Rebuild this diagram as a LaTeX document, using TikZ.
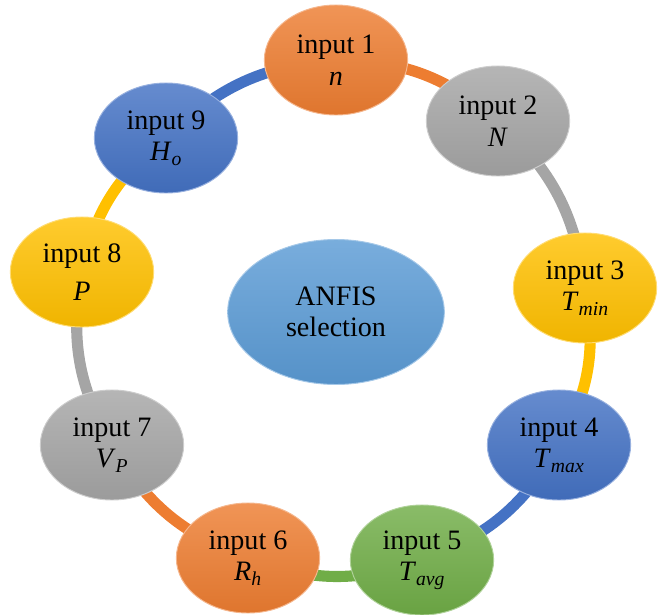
\documentclass[tikz,border=0pt]{standalone}
\usepackage{fontspec}
\setmainfont{Liberation Serif}
\usetikzlibrary{shapes.geometric,backgrounds}
\definecolor{orangeA}{RGB}{237,125,49}
\definecolor{grayA}{RGB}{165,165,165}
\definecolor{yellowA}{RGB}{255,192,0}
\definecolor{blueA}{RGB}{68,114,196}
\definecolor{greenA}{RGB}{112,173,71}
\definecolor{skyA}{RGB}{91,155,213}
% italic symbol with an italic index
\newcommand{\symb}[2]{\textit{#1}\textsubscript{\textit{#2}}}
\tikzset{
  bubble/.style = {ellipse, shading=axis, top color=#1!82!white, bottom color=#1!94!black,
                   draw=#1!55!white, line width=0.8pt, minimum width=4.3cm,
                   minimum height=3.3cm, inner sep=0pt, align=center,
                   font=\fontsize{24}{27}\selectfont},
  link/.style   = {line width=9.5pt, #1},
}

\begin{document}
\begin{tikzpicture}[x=0.03cm,y=-0.03cm]
  \useasboundingbox (0,0) rectangle (658,615);
  % centre
  \node[bubble=skyA, minimum width=6.5cm, minimum height=4.35cm] (anfis) at (336,312)
      {ANFIS\\selection};
  % the nine inputs
  \node[bubble=orangeA] (in1) at (336,60)  {input 1\\ \textit{n}};
  \node[bubble=grayA]   (in2) at (498,121) {input 2\\ \textit{N}};
  \node[bubble=yellowA] (in3) at (585,288) {input 3\\ \symb{T}{min}};
  \node[bubble=blueA]   (in4) at (559,445) {input 4\\ \symb{T}{max}};
  \node[bubble=greenA]  (in5) at (422,560) {input 5\\ \symb{T}{avg}};
  \node[bubble=orangeA] (in6) at (248,558) {input 6\\ \symb{R}{h}};
  \node[bubble=grayA]   (in7) at (112,445) {input 7\\ \symb{V}{P}};
  \node[bubble=yellowA] (in8) at (82,272)  {input 8\\[5pt] \textit{P}};
  \node[bubble=blueA]   (in9) at (166,138) {input 9\\ \symb{H}{o}};
  % ring behind the inputs
  \begin{scope}[on background layer]
    \foreach \a/\b/\c in {1/2/orangeA, 2/3/grayA, 3/4/yellowA, 4/5/blueA, 5/6/greenA,
                          6/7/orangeA, 7/8/grayA, 8/9/yellowA, 9/1/blueA}
      \draw[link=\c] (in\a.center) to[bend left=20] (in\b.center);
  \end{scope}
\end{tikzpicture}
\end{document}
